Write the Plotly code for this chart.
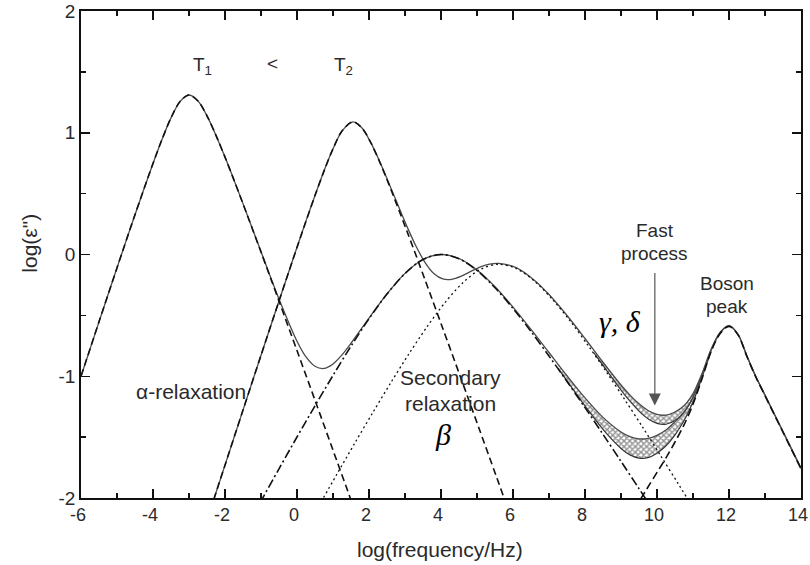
import plotly.graph_objects as go

# ---- values (log frequency, log eps'') ----
alpha1_x = [-6, -5.5, -5, -4.5, -4, -3.75, -3.5, -3.25, -3, -2.75, -2.5, -2.25, -2, -1.75, -1.5, -1, -0.5, 0, 0.5, 1, 1.5, 1.6]
alpha1_y = [-1.00, -0.553, -0.110, 0.327, 0.748, 0.945, 1.122, 1.256, 1.31, 1.261, 1.139, 0.978, 0.80, 0.611, 0.417, 0.020, -0.383, -0.789, -1.197, -1.607, -2.017, -2.10]

alpha2_x = [-2.5, -2.25, -2, -1.5, -1, -0.5, 0, 0.25, 0.5, 0.75, 1.0, 1.25, 1.55, 1.8, 2.05, 2.3, 2.55, 3.05, 3.55, 4.05, 4.55, 5.05, 5.55, 6.05]
alpha2_y = [-2.183, -1.956, -1.730, -1.278, -0.828, -0.382, 0.058, 0.274, 0.484, 0.685, 0.868, 1.014, 1.09, 1.041, 0.9185, 0.758, 0.578, 0.195, -0.203, -0.607, -1.014, -1.423, -1.834, -2.245]

beta1_x = [-1.25, -1, -0.5, 0, 0.5, 1, 1.5, 2, 2.5, 3, 3.5, 4, 4.5, 5, 5.5, 6, 6.5, 7, 7.5, 8, 8.5, 9, 9.5, 10]
beta1_y = [-2.158, -2.025, -1.760, -1.499, -1.243, -0.993, -0.753, -0.528, -0.325, -0.156, -0.041, 0.0, -0.035, -0.131, -0.273, -0.443, -0.632, -0.834, -1.043, -1.258, -1.477, -1.699, -1.923, -2.149]

beta2_x = [0.6, 1.1, 1.6, 2.1, 2.6, 3.1, 3.6, 4.1, 4.6, 5.1, 5.6, 6.1, 6.6, 7.1, 7.6, 8.1, 8.6, 9.1, 9.6, 10.1, 10.6, 11.1]
beta2_y = [-2.068, -1.809, -1.552, -1.301, -1.056, -0.820, -0.599, -0.399, -0.234, -0.121, -0.08, -0.117, -0.220, -0.370, -0.551, -0.753, -0.967, -1.190, -1.418, -1.652, -1.888, -2.126]

boson_x = [9.0, 9.5, 9.75, 10.0, 10.25, 10.5, 10.75, 11.0, 11.25, 11.5, 11.75, 12.0, 12.25, 12.5, 12.75, 13.0, 13.5, 14.0]
boson_y = [-2.26, -2.03, -1.91, -1.79, -1.67, -1.54, -1.40, -1.23, -1.02, -0.80, -0.65, -0.59, -0.66, -0.84, -1.01, -1.16, -1.46, -1.76]

total1_x = [-6, -5.5, -5, -4.5, -4, -3.75, -3.5, -3.25, -3, -2.75, -2.5, -2.25, -2, -1.75, -1.5, -1, -0.5, 0, 0.25, 0.5,
            0.75, 1.0, 1.25, 1.5, 2.0, 2.5, 3.0, 3.5, 4.0, 4.5, 5.0, 5.5, 6.0, 6.5, 7.0, 7.5, 8.0, 8.5, 9.0, 9.25,
            9.5, 9.75, 10.0, 10.25, 10.5, 10.75, 11.0, 11.25, 11.5, 11.75, 12.0, 12.25, 12.5, 12.75, 13.0, 13.5, 14.0]
total1_y = [-1.00, -0.553, -0.110, 0.327, 0.748, 0.945, 1.122, 1.256, 1.31, 1.261, 1.139, 0.978, 0.80, 0.611, 0.418, 0.024, -0.365, -0.712, -0.841, -0.918,
            -0.936, -0.899, -0.825, -0.729, -0.523, -0.324, -0.155, -0.041, 0.0, -0.033, -0.127, -0.265, -0.432, -0.615, -0.805, -0.996, -1.178, -1.338, -1.458, -1.496,
            -1.514, -1.511, -1.486, -1.442, -1.373, -1.296, -1.174, -0.994, -0.789, -0.645, -0.587, -0.657, -0.837, -1.007, -1.157, -1.457, -1.757]

total2_x = [-2.5, -2.25, -2, -1.5, -1, -0.5, 0, 0.25, 0.5, 0.75, 1.0, 1.25, 1.55, 1.8, 2.05, 2.3, 2.55, 3.05, 3.3, 3.55,
            3.8, 4.05, 4.3, 4.55, 4.8, 5.1, 5.35, 5.6, 6.1, 6.6, 7.0, 7.5, 8.0, 8.5, 9.0, 9.25, 9.5, 9.75, 10.0, 10.25,
            10.5, 10.75, 11.0, 11.25, 11.5, 11.75, 12.0, 12.25, 12.5, 12.75, 13.0, 13.5, 14.0]
total2_y = [-2.183, -1.956, -1.730, -1.278, -0.828, -0.382, 0.06, 0.276, 0.485, 0.686, 0.868, 1.014, 1.09, 1.041, 0.919, 0.762, 0.588, 0.233, 0.072, -0.062,
            -0.156, -0.201, -0.204, -0.180, -0.143, -0.101, -0.079, -0.073, -0.110, -0.213, -0.329, -0.501, -0.690, -0.885, -1.072, -1.155, -1.226, -1.281, -1.313, -1.319,
            -1.294, -1.243, -1.143, -0.978, -0.781, -0.640, -0.584, -0.655, -0.834, -1.004, -1.154, -1.454, -1.753]

# fast-process bands: with fast process (upper) / without (lower)
band1_x = [7.25, 7.5, 8, 8.5, 9, 9.25, 9.5, 9.75, 10, 10.25, 10.5, 10.75, 11, 11.25, 11.5]
band1_hi = [-0.901, -0.996, -1.178, -1.338, -1.458, -1.496, -1.514, -1.511, -1.486, -1.442, -1.373, -1.296, -1.174, -0.994, -0.789]
band1_lo = [-0.935, -1.038, -1.243, -1.437, -1.593, -1.646, -1.672, -1.668, -1.632, -1.571, -1.481, -1.366, -1.212, -1.011, -0.796]

band2_x = [8.25, 8.5, 9, 9.25, 9.5, 9.75, 10, 10.25, 10.5, 10.75, 11, 11.25, 11.5]
band2_hi = [-0.788, -0.885, -1.072, -1.155, -1.226, -1.281, -1.313, -1.319, -1.294, -1.243, -1.143, -0.978, -0.781]
band2_lo = [-0.809, -0.911, -1.113, -1.205, -1.286, -1.349, -1.387, -1.394, -1.364, -1.294, -1.172, -0.992, -0.787]

x_ticks = [-6, -4, -2, 0, 2, 4, 6, 8, 10, 12, 14]
y_ticks = [-2, -1, 0, 1, 2]

SANS = "Liberation Sans, Arial, sans-serif"
SERIF = "Liberation Serif, Times New Roman, serif"
TXT = "#2a2a2a"

fig = go.Figure()


def add_line(x, y, color, width, dash):
    fig.add_trace(go.Scatter(x=x, y=y, mode="lines", hoverinfo="skip", showlegend=False,
                             line=dict(color=color, width=width, dash=dash, shape="spline", smoothing=0.9)))


def add_band(x, hi, lo):
    fig.add_trace(go.Scatter(x=list(x) + list(x[::-1]), y=list(hi) + list(lo[::-1]),
                             mode="lines", fill="toself", fillcolor="white",
                             fillpattern=dict(shape="x", size=4, solidity=0.6, fgcolor="#262626", bgcolor="white"),
                             line=dict(width=0), hoverinfo="skip", showlegend=False))


add_band(band1_x, band1_hi, band1_lo)
add_band(band2_x, band2_hi, band2_lo)
add_line(band1_x, band1_lo, "#333333", 1.2, "solid")
add_line(band2_x, band2_lo, "#333333", 1.2, "solid")

add_line(total1_x, total1_y, "#4a4a4a", 1.3, "solid")
add_line(total2_x, total2_y, "#4a4a4a", 1.3, "solid")

add_line(alpha1_x, alpha1_y, "#111111", 1.6, "7px,4px")
add_line(alpha2_x, alpha2_y, "#111111", 1.6, "7px,4px")
add_line(beta1_x, beta1_y, "#111111", 1.6, "9px,3px,2px,3px")
add_line(beta2_x, beta2_y, "#111111", 1.3, "2px,3px")
add_line(boson_x, boson_y, "#111111", 1.6, "8px,4px")

ann = []


def text(x, y, s, size=21, family=SANS, color=TXT):
    ann.append(dict(x=x, y=y, xref="x", yref="y", text=s, showarrow=False,
                    font=dict(family=family, size=size, color=color), xanchor="center", yanchor="middle"))


text(-2.62, 1.55, "T<sub>1</sub>", size=19)
text(-0.67, 1.57, "<", size=19)
text(1.30, 1.55, "T<sub>2</sub>", size=19)
text(-2.94, -1.127, "α-relaxation", size=21)
text(4.25, -1.014, "Secondary", size=21)
text(4.25, -1.22, "relaxation", size=21)
text(4.06, -1.48, "<i>β</i>", size=30, family=SERIF, color="#000")
text(9.94, 0.20, "Fast", size=19)
text(9.94, 0.012, "process", size=19)
text(8.97, -0.554, "<i>γ, δ</i>", size=30, family=SERIF, color="#000")
text(11.94, -0.24, "Boson", size=19)
text(11.94, -0.43, "peak", size=19)

ann.append(dict(x=9.94, y=-1.24, ax=9.94, ay=-0.14, xref="x", yref="y", axref="x", ayref="y",
                showarrow=True, arrowhead=2, arrowsize=2.0, arrowwidth=1.2, arrowcolor="#555555", text=""))

ann.append(dict(x=0.4986, y=-0.105, xref="paper", yref="paper", text="log(frequency/Hz)", showarrow=False,
                font=dict(family=SANS, size=21, color=TXT), xanchor="center", yanchor="middle"))
ann.append(dict(x=-0.071, y=0.524, xref="paper", yref="paper", text="log(ε\")", showarrow=False, textangle=-90,
                font=dict(family=SANS, size=21, color=TXT), xanchor="center", yanchor="middle"))

axis_common = dict(showgrid=False, zeroline=False, showline=True, linecolor="#111", linewidth=1.8,
                   mirror="allticks", ticks="inside", ticklen=9, tickwidth=1.5, tickcolor="#111",
                   automargin=False, ticklabeloverflow="allow")

fig.update_layout(
    width=810, height=565,
    margin=dict(l=81, r=9, t=11, b=67),
    paper_bgcolor="white", plot_bgcolor="white",
    xaxis=dict(range=[-6, 14], tickvals=x_ticks, ticktext=[str(v) for v in x_ticks], ticklabelshift=-3,
               tickfont=dict(family=SANS, size=18, color=TXT),
               minor=dict(dtick=1, ticks="inside", ticklen=5, tickwidth=1.5, tickcolor="#111"), **axis_common),
    yaxis=dict(range=[-2, 2], tickvals=y_ticks, ticktext=[str(v) for v in y_ticks],
               tickfont=dict(family=SANS, size=19, color=TXT),
               minor=dict(dtick=0.5, ticks="inside", ticklen=5, tickwidth=1.5, tickcolor="#111"), **axis_common),
    annotations=ann,
)

fig.write_html("out.html", config={"displayModeBar": False, "staticPlot": True},
               post_script="document.body.style.margin='0';document.body.style.overflow='hidden';")
